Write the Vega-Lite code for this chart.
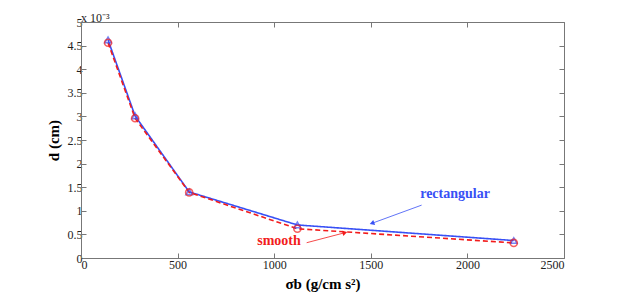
{
  "$schema": "https://vega.github.io/schema/vega-lite/v6.json",
  "width": 483,
  "height": 236,
  "autosize": "none",
  "padding": {"left": 81, "top": 22, "right": 59, "bottom": 40},
  "background": "white",
  "title": {"text": "x 10⁻³", "anchor": "start", "frame": "group", "font": "Liberation Serif", "fontSize": 12, "fontWeight": "normal", "color": "#222", "offset": -9},
  "config": {
    "view": {"stroke": null},
    "axis": {"labelFont": "Liberation Serif", "labelFontSize": 12, "labelColor": "#222", "titleFont": "Liberation Serif", "titleFontSize": 15, "titleFontWeight": "bold", "titleColor": "#000", "domainColor": "#777", "tickColor": "#777", "tickSize": -5, "grid": false}
  },
  "datasets": {
    "series": [
      {"sigma": 140, "d": 0.00462, "type": "rectangular"},
      {"sigma": 280, "d": 0.00301, "type": "rectangular"},
      {"sigma": 560, "d": 0.00140, "type": "rectangular"},
      {"sigma": 1120, "d": 0.00070, "type": "rectangular"},
      {"sigma": 2240, "d": 0.00037, "type": "rectangular"},
      {"sigma": 140, "d": 0.00456, "type": "smooth"},
      {"sigma": 280, "d": 0.00296, "type": "smooth"},
      {"sigma": 560, "d": 0.00139, "type": "smooth"},
      {"sigma": 1120, "d": 0.00062, "type": "smooth"},
      {"sigma": 2240, "d": 0.00032, "type": "smooth"}
    ],
    "notes": [
      {"type": "rectangular", "label": "rectangular", "lx": 1936, "ly": 0.00136, "x0": 1763, "y0": 0.00112, "x1": 1506, "y1": 0.000735, "angle": 250},
      {"type": "smooth", "label": "smooth", "lx": 1025, "ly": 0.00037, "x0": 1168, "y0": 0.000324, "x1": 1366, "y1": 0.000536, "angle": 75}
    ]
  },
  "layer": [
    {
      "data": {"name": "series"},
      "mark": {"type": "line", "strokeWidth": 1.6},
      "encoding": {
        "x": {"field": "sigma", "type": "quantitative", "scale": {"domain": [0, 2500], "nice": false},
          "axis": {"orient": "bottom", "title": "σb (g/cm s²)", "values": [0, 500, 1000, 1500, 2000, 2500], "format": "d", "labelFont": "Liberation Serif", "labelFontSize": 12, "labelPadding": 6, "titlePadding": 6}},
        "y": {"field": "d", "type": "quantitative", "scale": {"domain": [0, 0.005], "nice": false},
          "axis": {"orient": "left", "title": "d (cm)", "values": [0, 0.0005, 0.001, 0.0015, 0.002, 0.0025, 0.003, 0.0035, 0.004, 0.0045, 0.005], "labelExpr": "format(datum.value*1000, '~g')", "labelFont": "Liberation Serif", "labelFontSize": 12, "labelPadding": 4, "titlePadding": 6}},
        "color": {"field": "type", "type": "nominal", "scale": {"domain": ["rectangular", "smooth"], "range": ["#3850f5", "#f21c1c"]}, "legend": null},
        "strokeDash": {"field": "type", "type": "nominal", "scale": {"domain": ["rectangular", "smooth"], "range": [[1, 0], [5, 3]]}, "legend": null}
      }
    },
    {
      "data": {"name": "series"},
      "mark": {"type": "point", "filled": false, "strokeWidth": 1.6},
      "encoding": {
        "x": {"field": "sigma", "type": "quantitative", "axis": null},
        "y": {"field": "d", "type": "quantitative", "axis": null},
        "color": {"field": "type", "type": "nominal", "legend": null},
        "shape": {"field": "type", "type": "nominal", "scale": {"domain": ["rectangular", "smooth"], "range": ["triangle-up", "circle"]}, "legend": null},
        "size": {"field": "type", "type": "nominal", "scale": {"domain": ["rectangular", "smooth"], "range": [40, 50]}, "legend": null}
      }
    },
    {
      "data": {"name": "notes"},
      "mark": {"type": "rule", "strokeWidth": 0.8},
      "encoding": {
        "x": {"field": "x0", "type": "quantitative", "axis": null},
        "y": {"field": "y0", "type": "quantitative", "axis": null},
        "x2": {"field": "x1"},
        "y2": {"field": "y1"},
        "color": {"field": "type", "type": "nominal", "legend": null}
      }
    },
    {
      "data": {"name": "notes"},
      "mark": {"type": "point", "shape": "triangle-up", "filled": true, "size": 30, "opacity": 1},
      "encoding": {
        "x": {"field": "x1", "type": "quantitative", "axis": null},
        "y": {"field": "y1", "type": "quantitative", "axis": null},
        "angle": {"field": "angle", "type": "quantitative", "scale": {"domain": [0, 360], "range": [0, 360]}},
        "color": {"field": "type", "type": "nominal", "legend": null}
      }
    },
    {
      "data": {"name": "notes"},
      "mark": {"type": "text", "font": "Liberation Serif", "fontSize": 14, "fontWeight": "bold"},
      "encoding": {
        "x": {"field": "lx", "type": "quantitative", "axis": null},
        "y": {"field": "ly", "type": "quantitative", "axis": null},
        "text": {"field": "label"},
        "color": {"field": "type", "type": "nominal", "legend": null}
      }
    },
    {
      "data": {"name": "series"},
      "mark": {"type": "point", "opacity": 0},
      "encoding": {
        "x": {"field": "sigma", "type": "quantitative", "axis": {"orient": "top", "labels": false, "title": null, "values": [0, 500, 1000, 1500, 2000, 2500]}},
        "y": {"field": "d", "type": "quantitative", "axis": {"orient": "right", "labels": false, "title": null, "values": [0, 0.0005, 0.001, 0.0015, 0.002, 0.0025, 0.003, 0.0035, 0.004, 0.0045, 0.005]}}
      }
    }
  ],
  "resolve": {"axis": {"x": "independent", "y": "independent"}}
}
